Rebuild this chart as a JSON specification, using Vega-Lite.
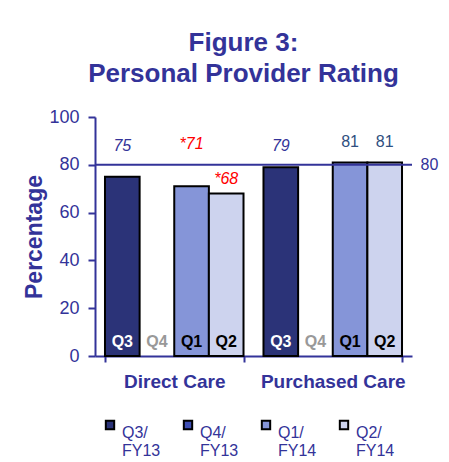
{
  "$schema": "https://vega.github.io/schema/vega-lite/v6.json",
  "autosize": {"type": "none"},
  "width": 317,
  "height": 239,
  "padding": {"left": 95, "top": 117, "right": 37, "bottom": 106},
  "background": "white",
  "title": {
    "text": ["Figure 3:", "Personal Provider Rating"],
    "font": "Liberation Sans",
    "fontSize": 26,
    "fontWeight": "bold",
    "color": "#333399",
    "anchor": "middle",
    "dx": -10,
    "offset": 21,
    "lineHeight": 31
  },
  "config": {"view": {"stroke": null}, "font": "Liberation Sans"},
  "datasets": {
    "rows": [
      {"group": "Direct Care", "period": "Q3/FY13", "q": "Q3", "pct": 75, "lbl": "75"},
      {"group": "Direct Care", "period": "Q4/FY13", "q": "Q4", "pct": null, "lbl": ""},
      {"group": "Direct Care", "period": "Q1/FY14", "q": "Q1", "pct": 71, "lbl": "*71"},
      {"group": "Direct Care", "period": "Q2/FY14", "q": "Q2", "pct": 68, "lbl": "*68"},
      {"group": "Purchased Care", "period": "Q3/FY13", "q": "Q3", "pct": 79, "lbl": "79"},
      {"group": "Purchased Care", "period": "Q4/FY13", "q": "Q4", "pct": null, "lbl": ""},
      {"group": "Purchased Care", "period": "Q1/FY14", "q": "Q1", "pct": 81, "lbl": "81"},
      {"group": "Purchased Care", "period": "Q2/FY14", "q": "Q2", "pct": 81, "lbl": "81"}
    ],
    "target": [{"benchmark": 80}]
  },
  "data": {"name": "rows"},
  "layer": [
    {
      "mark": {"type": "bar", "stroke": "black", "strokeWidth": 2},
      "encoding": {
        "x": {
          "field": "group",
          "type": "nominal",
          "sort": ["Direct Care", "Purchased Care"],
          "scale": {"paddingInner": 0.126, "paddingOuter": 0.063},
          "axis": {
            "title": null,
            "labelFont": "Liberation Sans",
            "labelFontSize": 19,
            "labelFontWeight": "bold",
            "labelColor": "#333399",
            "labelAngle": 0,
            "labelPadding": 10,
            "domainColor": "#333399",
            "domainWidth": 2,
            "tickColor": "#333399",
            "tickWidth": 2,
            "tickSize": 6,
            "tickBand": "extent",
            "grid": false
          }
        },
        "xOffset": {
          "field": "period",
          "type": "nominal",
          "scale": {"domain": ["Q3/FY13", "Q4/FY13", "Q1/FY14", "Q2/FY14"], "padding": 0}
        },
        "y": {
          "field": "pct",
          "type": "quantitative",
          "scale": {"domain": [0, 100], "nice": false},
          "axis": {
            "title": "Percentage",
            "titleFont": "Liberation Sans",
            "titleFontSize": 23,
            "titleFontWeight": "bold",
            "titleColor": "#333399",
            "titlePadding": 2,
            "values": [0, 20, 40, 60, 80, 100],
            "labelFont": "Liberation Sans",
            "labelFontSize": 18,
            "labelColor": "#333399",
            "labelPadding": 9,
            "domainColor": "#333399",
            "domainWidth": 2,
            "tickColor": "#333399",
            "tickWidth": 2,
            "tickSize": 7,
            "grid": false
          }
        },
        "color": {
          "field": "period",
          "type": "nominal",
          "scale": {
            "domain": ["Q3/FY13", "Q4/FY13", "Q1/FY14", "Q2/FY14"],
            "range": ["#2B3378", "#3F4FB5", "#8595D8", "#CDD3EE"]
          },
          "legend": {
            "orient": "none",
            "legendX": 7,
            "legendY": 300,
            "direction": "horizontal",
            "columns": 4,
            "title": null,
            "symbolType": "square",
            "symbolSize": 70,
            "symbolStrokeColor": "black",
            "symbolStrokeWidth": 2,
            "symbolOpacity": 1,
            "labelFont": "Liberation Sans",
            "labelFontSize": 16,
            "labelColor": "#333399",
            "labelBaseline": "top",
            "labelLimit": 0,
            "labelOffset": 4,
            "columnPadding": 18,
            "labelExpr": "[slice(datum.label, 0, 3), slice(datum.label, 3)]"
          }
        }
      }
    },
    {
      "data": {"name": "target"},
      "mark": {"type": "rule", "stroke": "#333399", "strokeWidth": 2},
      "encoding": {
        "y": {
          "field": "benchmark",
          "type": "quantitative",
          "axis": {
            "orient": "right",
            "values": [80],
            "domain": false,
            "ticks": false,
            "grid": false,
            "title": null,
            "labelPadding": 8,
            "labelFont": "Liberation Sans",
            "labelFontSize": 16,
            "labelColor": "#333399"
          }
        }
      }
    },
    {
      "transform": [{"filter": "datum.q == 'Q3'"}],
      "mark": {"type": "text", "color": "white", "fontWeight": "bold", "fontSize": 16, "font": "Liberation Sans"},
      "encoding": {
        "x": {"field": "group", "type": "nominal", "sort": ["Direct Care", "Purchased Care"]},
        "xOffset": {"field": "period", "type": "nominal"},
        "y": {"datum": 6, "axis": null}, "text": {"field": "q"}}
    },
    {
      "transform": [{"filter": "datum.q == 'Q4'"}],
      "mark": {"type": "text", "color": "#999999", "fontWeight": "bold", "fontSize": 16, "font": "Liberation Sans"},
      "encoding": {
        "x": {"field": "group", "type": "nominal", "sort": ["Direct Care", "Purchased Care"]},
        "xOffset": {"field": "period", "type": "nominal"},
        "y": {"datum": 6, "axis": null}, "text": {"field": "q"}}
    },
    {
      "transform": [{"filter": "datum.q == 'Q1' || datum.q == 'Q2'"}],
      "mark": {"type": "text", "color": "black", "fontWeight": "bold", "fontSize": 16, "font": "Liberation Sans"},
      "encoding": {
        "x": {"field": "group", "type": "nominal", "sort": ["Direct Care", "Purchased Care"]},
        "xOffset": {"field": "period", "type": "nominal"},
        "y": {"datum": 6, "axis": null}, "text": {"field": "q"}}
    },
    {
      "transform": [{"filter": "datum.q == 'Q3'"}],
      "mark": {"type": "text", "color": "#333399", "fontStyle": "italic", "fontSize": 16, "font": "Liberation Sans"},
      "encoding": {
        "x": {"field": "group", "type": "nominal", "sort": ["Direct Care", "Purchased Care"]},
        "xOffset": {"field": "period", "type": "nominal"},
        "y": {"datum": 88, "axis": null}, "text": {"field": "lbl"}}
    },
    {
      "transform": [{"filter": "datum.group == 'Direct Care' && datum.q == 'Q1'"}],
      "mark": {"type": "text", "color": "#FF0000", "fontStyle": "italic", "fontSize": 16, "font": "Liberation Sans"},
      "encoding": {
        "x": {"field": "group", "type": "nominal", "sort": ["Direct Care", "Purchased Care"]},
        "xOffset": {"field": "period", "type": "nominal"},
        "y": {"datum": 88.7, "axis": null}, "text": {"field": "lbl"}}
    },
    {
      "transform": [{"filter": "datum.group == 'Direct Care' && datum.q == 'Q2'"}],
      "mark": {"type": "text", "color": "#FF0000", "fontStyle": "italic", "fontSize": 16, "font": "Liberation Sans"},
      "encoding": {
        "x": {"field": "group", "type": "nominal", "sort": ["Direct Care", "Purchased Care"]},
        "xOffset": {"field": "period", "type": "nominal"},
        "y": {"datum": 74, "axis": null}, "text": {"field": "lbl"}}
    },
    {
      "transform": [{"filter": "datum.group == 'Purchased Care' && (datum.q == 'Q1' || datum.q == 'Q2')"}],
      "mark": {"type": "text", "color": "#2F4F7F", "fontSize": 16, "font": "Liberation Sans"},
      "encoding": {
        "x": {"field": "group", "type": "nominal", "sort": ["Direct Care", "Purchased Care"]},
        "xOffset": {"field": "period", "type": "nominal"},
        "y": {"datum": 89.5, "axis": null}, "text": {"field": "lbl"}}
    }
  ],
  "resolve": {"axis": {"y": "independent"}}
}
